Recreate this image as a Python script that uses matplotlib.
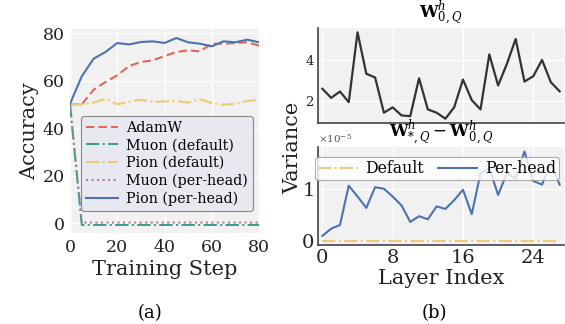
import numpy as np
import matplotlib
matplotlib.use("Agg")
import matplotlib.pyplot as plt
from matplotlib.ticker import ScalarFormatter

plt.rcParams['font.family'] = ['DejaVu Serif']
plt.rcParams['mathtext.fontset'] = 'dejavuserif'

# ---- data: panel (a) ----
steps = list(range(0, 81, 5))
adamw = [50, 50, 56.1, 59.4, 62.2, 66.1, 67.8, 68.5, 70.3, 72.0, 72.7, 72.3, 75.5, 75.5, 75.8, 76.1, 74.7]
muon_default = [50, -0.8, -0.8, -0.8, -0.8, -0.8, -0.8, -0.8, -0.8, -0.8, -0.8, -0.8, -0.8, -0.8, -0.8, -0.8, -0.8]
pion_default = [50, 50, 50.7, 52.3, 50.0, 51.0, 51.9, 51.0, 51.2, 51.4, 50.7, 52.1, 50.5, 49.8, 50.2, 51.4, 51.9]
muon_perhead = [50, 0.2, 0.2, 0.2, 0.2, 0.2, 0.2, 0.2, 0.2, 0.2, 0.2, 0.2, 0.2, 0.2, 0.2, 0.2, 0.2]
pion_perhead = [50.2, 61.8, 69.2, 72.0, 75.8, 75.2, 76.2, 76.5, 75.8, 77.9, 76.1, 75.5, 74.4, 76.5, 76.1, 77.2, 76.1]

# ---- data: panel (b) ----
layers = list(range(28))
w0_var = [2.60, 2.16, 2.47, 1.95, 5.34, 3.33, 3.15, 1.44, 1.70, 1.31, 1.27, 3.11, 1.60, 1.44,
          1.15, 1.70, 3.05, 2.05, 1.60, 4.27, 2.76, 3.81, 5.02, 2.95, 3.21, 4.00, 2.92, 2.48]
delta_perhead = [0.09, 0.23, 0.30, 1.06, 0.85, 0.63, 1.03, 1.00, 0.85, 0.68, 0.36, 0.47, 0.41, 0.66,
                 0.61, 0.78, 0.98, 0.51, 1.30, 1.40, 0.88, 1.30, 1.20, 1.72, 1.15, 1.08, 1.50, 1.08]
delta_default = [0.0] * 28
delta_scale = 1e-5

bg = '#f1f1f1'
c_red = '#e0665a'
c_teal = '#3a9e8a'
c_yel = '#f0c878'
c_pur = '#b07aa1'
c_blue = '#4c72b0'

fig = plt.figure(figsize=(5.65, 3.24), dpi=100)

def style(ax, spines):
    ax.set_facecolor(bg)
    ax.grid(True, color='white', linewidth=1.0)
    ax.set_axisbelow(True)
    for s in ['top', 'right', 'left', 'bottom']:
        ax.spines[s].set_visible(False)
    for s in spines:
        ax.spines[s].set_visible(True)
        ax.spines[s].set_color('#444444')
        ax.spines[s].set_linewidth(1.2)
    ax.tick_params(length=0, colors='#222222')

# panel (a)
ax1 = fig.add_axes([70/565, 1-233/324, 189/565, 204/324])
style(ax1, [])
ax1.plot(steps, adamw, color=c_red, ls=(0, (4, 2)), lw=1.5, label='AdamW')
ax1.plot(steps, muon_default, color=c_teal, ls='-.', lw=1.5, label='Muon (default)')
ax1.plot(steps, pion_default, color=c_yel, ls='-.', lw=1.5, label='Pion (default)')
ax1.plot(steps, muon_perhead, color=c_pur, ls=':', lw=1.5, label='Muon (per-head)')
ax1.plot(steps, pion_perhead, color=c_blue, ls='-', lw=1.5, label='Pion (per-head)')
ax1.set_xlim(0, 80)
ax1.set_ylim(-4.2, 81.7)
ax1.set_xticks([0, 20, 40, 60, 80])
ax1.set_yticks([0, 20, 40, 60, 80])
ax1.tick_params(labelsize=12.5, pad=4)
ax1.set_xlabel('Training Step', fontsize=15, labelpad=3, color='#222222')
ax1.set_ylabel('Accuracy', fontsize=15, labelpad=2, color='#222222')
leg = ax1.legend(loc='lower right', bbox_to_anchor=(0.968, 0.108), borderaxespad=0, fontsize=10.3,
                 facecolor='#e8e8f0', edgecolor='#888888', framealpha=1.0,
                 handlelength=2.2, labelspacing=0.25, borderpad=0.35, handletextpad=0.6)
leg.get_frame().set_linewidth(0.8)

# panel (b) top
ax2 = fig.add_axes([318/565, 1-123/324, 246/565, 95/324])
style(ax2, ['left', 'bottom'])
ax2.plot(layers, w0_var, color='#333333', lw=1.6)
ax2.set_xlim(-0.5, 27.5)
ax2.set_xticks([0, 8, 16, 24])
ax2.set_xticklabels([])
ax2.set_yticks([2, 4])
ax2.tick_params(labelsize=9.5, pad=3)
ax2.set_title(r'$\mathbf{W}^{h}_{0,Q}$', fontsize=12, pad=3)

# panel (b) bottom
ax3 = fig.add_axes([318/565, 1-245/324, 246/565, 98/324])
style(ax3, ['left', 'bottom'])
ax3.plot(layers, np.array(delta_default) * delta_scale, color=c_yel, ls='-.', lw=1.5, label='Default')
ax3.plot(layers, np.array(delta_perhead) * delta_scale, color=c_blue, ls='-', lw=1.5, label='Per-head')
ax3.set_xlim(-0.5, 27.5)
ax3.set_xticks([0, 8, 16, 24])
ax3.set_yticks([0, 1e-5])
fmt = ScalarFormatter(useMathText=True)
fmt.set_powerlimits((0, 0))
ax3.yaxis.set_major_formatter(fmt)
ax3.tick_params(labelsize=14, pad=3)
ax3.yaxis.get_offset_text().set_fontsize(7.5)
ax3.yaxis.get_offset_text().set_color('#555555')
ax3.set_xlabel('Layer Index', fontsize=15, labelpad=1, color='#222222')
ax3.set_title(r'$\mathbf{W}^{h}_{*,Q} - \mathbf{W}^{h}_{0,Q}$', fontsize=12, pad=3)
leg2 = ax3.legend(loc='upper center', bbox_to_anchor=(0.485, 0.898), borderaxespad=0, ncol=2, fontsize=11.3,
                  facecolor='white', edgecolor='#999999', framealpha=0.8,
                  handlelength=2.5, columnspacing=0.9, borderpad=0.2, handletextpad=0.5)
leg2.get_frame().set_linewidth(0.8)

fig.text(0.519, 0.543, 'Variance', rotation=90, ha='center', va='center', fontsize=15, color='#222222')
fig.text(150/565, 1-313/324, '(a)', ha='center', va='center', fontsize=13)
fig.text(434/565, 1-313/324, '(b)', ha='center', va='center', fontsize=13)

fig.savefig('out.png', dpi=100)
